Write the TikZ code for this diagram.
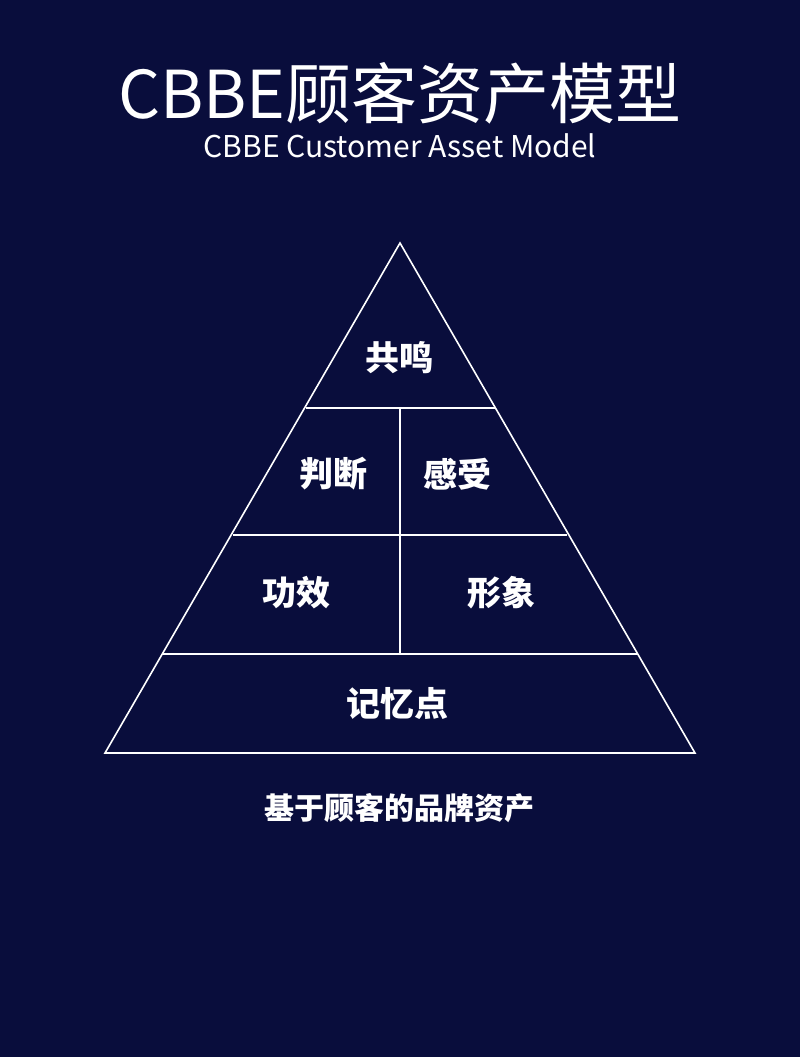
\documentclass[tikz,border=0pt]{standalone}
\usepackage{fontspec}
\setmainfont{Noto Sans CJK SC}
\definecolor{bg}{HTML}{090D3C}
\begin{document}
\begin{tikzpicture}[x=1pt,y=-1pt,
  ln/.style={white,line width=1.6pt},
  lab/.style={white,font=\fontsize{34}{34}\selectfont\bfseries}]
\fill[bg] (0,0) rectangle (800,1057);
\useasboundingbox (0,0) rectangle (800,1057);
\node[white,font=\fontsize{66}{66}\selectfont] (t) at (400,93) {CBBE顾客资产模型};
\node[white,font=\fontsize{30}{30}\selectfont] (s) at (400,146) {CBBE Customer Asset Model};
\coordinate (A) at (400,243);
\coordinate (L) at (105,753);
\coordinate (R) at (695,753);
\coordinate (l1) at (306,408); \coordinate (r1) at (495,408);
\coordinate (l2) at (233,535); \coordinate (r2) at (567,535);
\coordinate (l3) at (163,654); \coordinate (r3) at (637,654);
\coordinate (m1) at (400,408); \coordinate (m3) at (400,654);
\draw[ln,line join=miter] (A) -- (L) -- (R) -- cycle;
\draw[ln] (l1) -- (r1);
\draw[ln] (l2) -- (r2);
\draw[ln] (l3) -- (r3);
\draw[ln] (m1) -- (m3);
\node[lab] (n1) at (399,358) {共鸣};
\node[lab] (n2) at (333,474) {判断};
\node[lab] (n3) at (457,474) {感受};
\node[lab] (n4) at (296,593) {功效};
\node[lab] (n5) at (501,593) {形象};
\node[lab] (n6) at (397,704) {记忆点};
\node[white,font=\fontsize{30}{30}\selectfont\bfseries] (b) at (399,808) {基于顾客的品牌资产};
\end{tikzpicture}
\end{document}
